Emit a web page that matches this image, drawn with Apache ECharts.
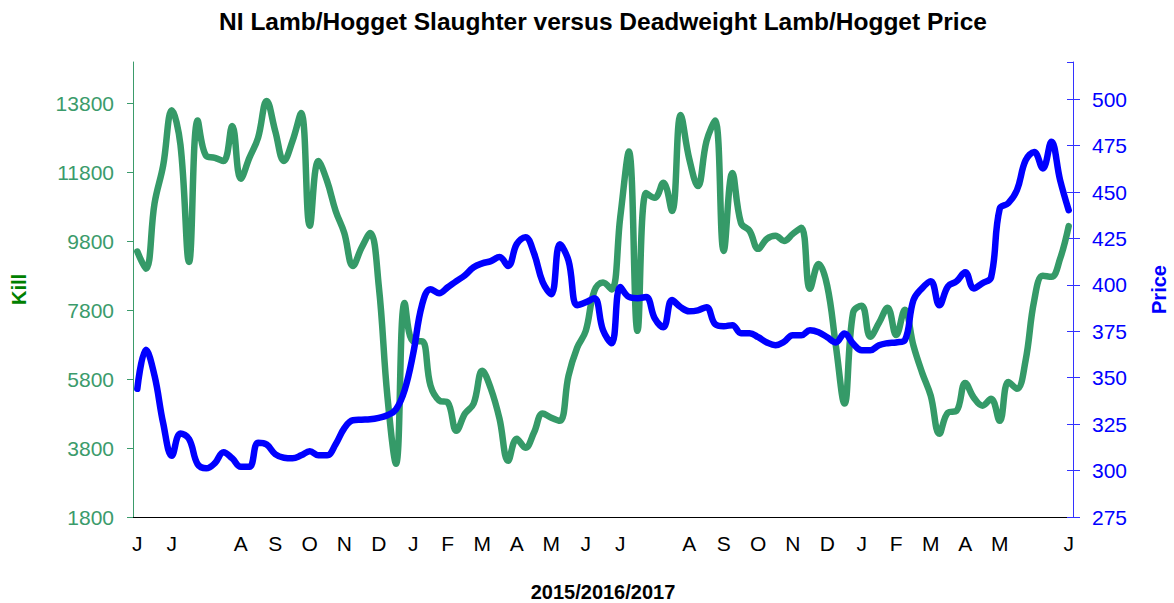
<!DOCTYPE html>
<html>
<head>
<meta charset="utf-8">
<script src="https://cdn.jsdelivr.net/npm/echarts@6/dist/echarts.min.js"></script>
<style>
html,body{margin:0;padding:0;background:#fff;overflow:hidden;}
#chart{width:1174px;height:603px;}
</style>
</head>
<body>
<div id="chart"></div>
<script>
// Month initials shown every 4th week
const monthLabels = ['J','J','','A','S','O','N','D','J','F','M','A','M','J','J','','A','S','O','N','D','J','F','M','A','M','','J'];

// Weekly kill (left axis)
const kill = [
 9500, 9000, 10900, 12000, 13600, 12600, 9200, 13300, 12270, 12220,
 12130, 13140, 11610, 12220, 12800, 13870, 12990, 12130, 12710, 13520,
 10250, 12130, 11550, 10680, 10040, 9085, 9610, 10040, 8500, 5300,
 3345, 8010, 6900, 6900, 5610, 5180, 5120, 4300, 4800, 5090,
 6040, 5520, 4650, 3430, 4070, 3810, 4250, 4800, 4680, 4590,
 5900, 6710, 7200, 8360, 8600, 8400, 10500, 12400, 7200, 11200,
 11060, 11500, 10680, 13460, 12190, 11400, 12700, 13300, 9520, 11780,
 10330, 10100, 9580, 9870, 9960, 9810, 10010, 10190, 8420, 9140,
 8510, 6770, 5090, 7730, 7930, 7030, 7430, 7870, 7080, 7810,
 6770, 5990, 5320, 4215, 4830, 4880, 5690, 5260, 5030, 5230,
 4590, 5720, 5520, 6340, 8080, 8800, 8770, 9290, 10240
];

// Weekly deadweight price (right axis)
const price = [
 344, 365, 351, 325.5, 308, 320, 317, 303.4, 301.2, 304,
 309.9, 306.6, 302, 302, 315, 314, 308.8, 306.9, 306.6, 308.2,
 310.4, 308.2, 308.2, 314.2, 322.8, 327.1, 327.4, 327.6, 328.4, 329.8,
 333, 343.3, 363.2, 389, 397.7, 395.5, 398.7, 402, 405.2, 409.5,
 411.6, 412.8, 415, 410.2, 422, 425.7, 417, 401.5, 395, 421.8,
 413, 389, 390.6, 392.8, 375.6, 368.6, 398.9, 393.5, 392.8, 393.4,
 382, 377.2, 391.8, 388, 385.8, 386.3, 388, 378.8, 377.7, 378.3,
 374, 374, 371.8, 369, 367.5, 369.4, 372.9, 372.9, 375.6, 374.5,
 371.8, 369, 373.8, 368.4, 364.8, 364.8, 367.5, 368.6, 369, 370.2,
 391.8, 398.2, 402, 389, 399.2, 401.9, 406.8, 398.1, 400.9, 404,
 441, 444, 451, 467, 471.5, 462.7, 477, 456.5, 440.2
];

const weeks = kill.map((_, i) => String(i));

const FONT = '"Liberation Sans", Arial, sans-serif';
const GREEN_LINE = '#359a68';
const GREEN_AXIS = '#3b9b6b';
const BLUE = '#0000ff';

const chart = echarts.init(document.getElementById('chart'), null, {renderer: 'svg', width: 1174, height: 603});
chart.setOption({
  animation: false,
  backgroundColor: '#ffffff',
  textStyle: {fontFamily: FONT},
  title: {
    text: 'NI Lamb/Hogget Slaughter versus Deadweight Lamb/Hogget Price',
    left: 603,
    textAlign: 'center',
    top: 9,
    padding: 0,
    textStyle: {fontFamily: FONT, fontSize: 24.5, fontWeight: 'bold', color: '#000'}
  },
  grid: {left: 133, right: 101, top: 62, bottom: 86, containLabel: false, outerBoundsMode: 'none'},
  xAxis: {
    type: 'category',
    data: weeks,
    boundaryGap: true,
    name: '2015/2016/2017',
    nameLocation: 'middle',
    nameGap: 65,
    nameTextStyle: {fontFamily: FONT, fontSize: 20, fontWeight: 'bold', color: '#000'},
    axisLine: {lineStyle: {color: '#000', width: 1}},
    axisTick: {show: false},
    splitLine: {show: false},
    axisLabel: {
      interval: 3,
      margin: 16,
      fontFamily: FONT, fontSize: 21, color: '#000',
      formatter: (v, idx) => monthLabels[Math.round(idx / 4)] || ''
    }
  },
  yAxis: [
    {
      type: 'value', position: 'left',
      min: 1800, max: 15000, interval: 2000,
      name: 'Kill', nameLocation: 'middle', nameGap: 104, nameRotate: 90,
      nameTextStyle: {fontFamily: FONT, fontSize: 20, fontWeight: 'bold', color: '#008000'},
      axisLine: {show: true, lineStyle: {color: GREEN_AXIS, width: 1}},
      axisTick: {show: true, length: 6, lineStyle: {color: GREEN_AXIS}},
      splitLine: {show: false},
      axisLabel: {margin: 19, fontFamily: FONT, fontSize: 21, color: GREEN_AXIS, showMaxLabel: false,
        formatter: v => String(v)}
    },
    {
      type: 'value', position: 'right',
      min: 275, max: 520, interval: 25,
      name: 'Price', nameLocation: 'middle', nameGap: 76, nameRotate: 90,
      nameTextStyle: {fontFamily: FONT, fontSize: 20, fontWeight: 'bold', color: BLUE},
      axisLine: {show: true, lineStyle: {color: '#3333ff', width: 1}},
      axisTick: {show: true, length: 7, lineStyle: {color: '#3333ff'}},
      splitLine: {show: false},
      axisLabel: {margin: 19, fontFamily: FONT, fontSize: 21, color: BLUE, showMaxLabel: false,
        formatter: v => String(v)}
    },
    {
      type: 'value', position: 'right',
      min: 275, max: 520, interval: 25,
      axisLine: {show: false},
      axisTick: {show: true, inside: true, length: 6, lineStyle: {color: '#3333ff'}},
      axisLabel: {show: false},
      splitLine: {show: false}
    }
  ],
  series: [
    {
      name: 'Kill', type: 'line', yAxisIndex: 0, data: kill,
      smooth: 0.4, symbol: 'none',
      lineStyle: {color: GREEN_LINE, width: 6.5, cap: 'round', join: 'round'},
      z: 2
    },
    {
      name: 'Price', type: 'line', yAxisIndex: 1, data: price,
      smooth: 0.4, symbol: 'none',
      lineStyle: {color: BLUE, width: 6.5, cap: 'round', join: 'round'},
      z: 3
    }
  ]
});
</script>
</body>
</html>
